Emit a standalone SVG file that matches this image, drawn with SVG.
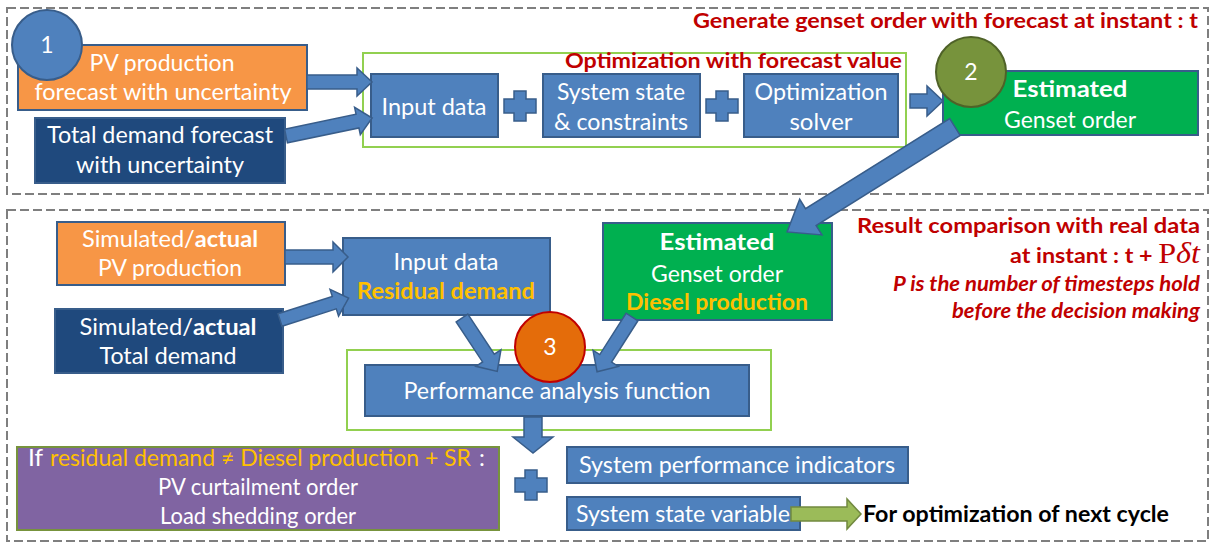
<svg xmlns="http://www.w3.org/2000/svg" width="1213" height="544" viewBox="0 0 1213 544">
<defs>
<style>
.dash{fill:none;stroke:#7F7F7F;stroke-width:2;stroke-dasharray:9,4}
.grn{fill:none;stroke:#92D050;stroke-width:2}
.bx{stroke:#385D8A;stroke-width:2}
.blue{fill:#4F81BD}
.org{fill:#F79646}
.dkb{fill:#1F497D}
.gbox{fill:#00B050}
.arr{fill:#4F81BD;stroke:#385D8A;stroke-width:1.5}
.t{fill:#fff;font-family:Lato,"Liberation Sans",sans-serif;font-size:23.5px;text-anchor:middle}
.s{text-anchor:start}
.bd{font-weight:bold}
.yl{fill:#FFC000}
.red{fill:#C00000;font-family:Lato,"Liberation Sans",sans-serif;font-weight:bold;font-size:21px;text-anchor:end}
.num{fill:#fff;font-family:Lato,"Liberation Sans",sans-serif;font-size:23px;text-anchor:middle}
</style>
</defs>
<rect width="1213" height="544" fill="#fff"/>
<rect class="dash" x="7" y="8" width="1201" height="186"/>
<rect class="dash" x="7" y="210" width="1201" height="331"/>

<text class="red" x="1198" y="28" textLength="505" lengthAdjust="spacingAndGlyphs">Generate genset order with forecast at instant : t</text>
<rect class="grn" x="363" y="53" width="543" height="94"/>
<text class="red" x="902" y="68" textLength="337" lengthAdjust="spacingAndGlyphs">Optimization with forecast value</text>
<text class="red" x="1200" y="233" textLength="343" lengthAdjust="spacingAndGlyphs">Result comparison with real data</text>
<text class="red" x="1200" y="263" font-size="23" textLength="190" lengthAdjust="spacingAndGlyphs">at instant : t + <tspan font-family="'Liberation Serif',serif" font-weight="normal" font-size="29">P</tspan><tspan font-family="'Liberation Serif',serif" font-weight="normal" font-style="italic" font-size="29">δt</tspan></text>
<text class="red" x="1200" y="291" font-size="18" font-style="italic" textLength="307" lengthAdjust="spacingAndGlyphs">P is the number of timesteps hold</text>
<text class="red" x="1200" y="318" font-size="18" font-style="italic" textLength="248" lengthAdjust="spacingAndGlyphs">before the decision making</text>
<rect class="grn" x="347" y="350" width="424" height="80"/>

<g id="pv-forecast">
<rect class="org bx" x="18" y="45" width="289" height="65"/>
<text class="t" x="162" y="71" textLength="145" lengthAdjust="spacingAndGlyphs">PV production</text>
<text class="t" x="163" y="100" textLength="257" lengthAdjust="spacingAndGlyphs">forecast with uncertainty</text>
</g>
<g id="demand-forecast">
<rect class="dkb bx" x="35" y="118" width="250" height="65"/>
<text class="t" x="160" y="143" textLength="226" lengthAdjust="spacingAndGlyphs">Total demand forecast</text>
<text class="t" x="160" y="173" textLength="168" lengthAdjust="spacingAndGlyphs">with uncertainty</text>
</g>
<g id="input-data">
<rect class="blue bx" x="371" y="74" width="127" height="63"/>
<text class="t" x="434" y="115" textLength="105" lengthAdjust="spacingAndGlyphs">Input data</text>
</g>
<g id="system-state">
<rect class="blue bx" x="543" y="74" width="157" height="63"/>
<text class="t" x="621" y="100" textLength="128" lengthAdjust="spacingAndGlyphs">System state</text>
<text class="t" x="621" y="130" textLength="134" lengthAdjust="spacingAndGlyphs">&amp; constraints</text>
</g>
<g id="solver">
<rect class="blue bx" x="744" y="74" width="154" height="63"/>
<text class="t" x="821" y="100" textLength="133" lengthAdjust="spacingAndGlyphs">Optimization</text>
<text class="t" x="821" y="130" textLength="63" lengthAdjust="spacingAndGlyphs">solver</text>
</g>
<g id="estimated-top">
<rect class="gbox bx" x="943" y="71" width="255" height="64"/>
<text class="t bd" x="1070" y="97" textLength="115" lengthAdjust="spacingAndGlyphs">Estimated</text>
<text class="t" x="1070" y="128" textLength="132" lengthAdjust="spacingAndGlyphs">Genset order</text>
</g>

<g id="actual-pv">
<rect class="org bx" x="57" y="222" width="228" height="63"/>
<text class="t" x="170" y="247" textLength="176" lengthAdjust="spacingAndGlyphs">Simulated/<tspan class="bd">actual</tspan></text>
<text class="t" x="170" y="276" textLength="144" lengthAdjust="spacingAndGlyphs">PV production</text>
</g>
<g id="actual-demand">
<rect class="dkb bx" x="55" y="309" width="228" height="64"/>
<text class="t" x="168" y="335" textLength="177" lengthAdjust="spacingAndGlyphs">Simulated/<tspan class="bd">actual</tspan></text>
<text class="t" x="168" y="364" textLength="137" lengthAdjust="spacingAndGlyphs">Total demand</text>
</g>
<g id="input-residual">
<rect class="blue bx" x="343" y="238" width="207" height="77"/>
<text class="t" x="446" y="270" textLength="105" lengthAdjust="spacingAndGlyphs">Input data</text>
<text class="t bd yl" x="446" y="299" textLength="178" lengthAdjust="spacingAndGlyphs">Residual demand</text>
</g>
<g id="estimated-bottom">
<rect class="gbox bx" x="603" y="223" width="229" height="97"/>
<text class="t bd" x="717" y="250" textLength="115" lengthAdjust="spacingAndGlyphs">Estimated</text>
<text class="t" x="717" y="282" textLength="132" lengthAdjust="spacingAndGlyphs">Genset order</text>
<text class="t bd yl" x="717" y="310" textLength="182" lengthAdjust="spacingAndGlyphs">Diesel production</text>
</g>
<g id="performance">
<rect class="blue bx" x="365" y="365" width="384" height="51"/>
<text class="t" x="557" y="399" textLength="307" lengthAdjust="spacingAndGlyphs">Performance analysis function</text>
</g>
<g id="curtailment">
<rect x="17" y="447" width="482" height="83" fill="#8064A2" stroke="#77933C" stroke-width="2"/>
<text class="t s" x="28" y="466" textLength="15" lengthAdjust="spacingAndGlyphs">If</text>
<text class="t s yl" x="50" y="466" textLength="421" lengthAdjust="spacingAndGlyphs">residual demand ≠ Diesel production + SR</text>
<text class="t s" x="479" y="466">:</text>
<text class="t" x="258" y="495" textLength="200" lengthAdjust="spacingAndGlyphs">PV curtailment order</text>
<text class="t" x="258" y="524" textLength="196" lengthAdjust="spacingAndGlyphs">Load shedding order</text>
</g>
<g id="indicators">
<rect class="blue bx" x="567" y="447" width="341" height="36"/>
<text class="t" x="737" y="473" textLength="316" lengthAdjust="spacingAndGlyphs">System performance indicators</text>
</g>
<g id="state-variable">
<rect class="blue bx" x="567" y="497" width="233" height="33"/>
<text class="t" x="683" y="522" textLength="214" lengthAdjust="spacingAndGlyphs">System state variable</text>
</g>
<g id="next-cycle">
<text x="863" y="522" fill="#000" font-family="Lato,'Liberation Sans',sans-serif" font-weight="bold" font-size="22" textLength="306" lengthAdjust="spacingAndGlyphs">For optimization of next cycle</text>
</g>

<g id="connectors">
<polygon class="arr" points="307,75 357,75 357,68 372,82 357,96 357,89 307,89"/>
<polygon class="arr" transform="translate(286,136) rotate(-11.8)" points="0,-7 73,-7 73,-14 88,0 73,14 73,7 0,7"/>
<path class="arr" d="M504,99 h10 v-8 h12 v8 h10 v14 h-10 v8 h-12 v-8 h-10 z"/>
<path class="arr" d="M706,99 h10 v-8 h12 v8 h10 v14 h-10 v8 h-12 v-8 h-10 z"/>
<polygon class="arr" points="910,94 927,94 927,86 943,101 927,116 927,108 910,108"/>
<polygon class="arr" transform="translate(955,127) rotate(148)" points="0,-10 170,-10 170,-21 198,0 170,21 170,10 0,10"/>
<polygon class="arr" points="285,250 333,250 333,242 348,257 333,272 333,264 285,264"/>
<polygon class="arr" transform="translate(280,320) rotate(-17.7)" points="0,-6.5 57,-6.5 57,-14 72,0 57,14 57,6.5 0,6.5"/>
<polygon class="arr" transform="translate(462,318) rotate(56.6)" points="0,-7 48,-7 48,-15 64,0 48,15 48,7 0,7"/>
<polygon class="arr" transform="translate(632,317) rotate(122.5)" points="0,-7 49,-7 49,-15 65,0 49,15 49,7 0,7"/>
<polygon class="arr" points="524,417 542,417 542,437 553,437 533,453 513,437 524,437"/>
<path class="arr" d="M515,478 h10 v-8 h12 v8 h10 v14 h-10 v8 h-12 v-8 h-10 z"/>
<polygon points="791,507 847,507 847,499 861,514 847,529 847,521 791,521" fill="#9BBB59" stroke="#71893F" stroke-width="1.5"/>
</g>

<g id="badge-1">
<circle cx="47" cy="45" r="35" fill="#4F81BD" stroke="#385D8A" stroke-width="2"/>
<text class="num" x="47" y="53">1</text>
</g>
<g id="badge-2">
<circle cx="971" cy="72" r="35" fill="#77933C" stroke="#4F6228" stroke-width="2"/>
<text class="num" x="971" y="80">2</text>
</g>
<g id="badge-3">
<circle cx="550" cy="347" r="35" fill="#E46C0A" stroke="#C00000" stroke-width="2"/>
<text class="num" x="550" y="355">3</text>
</g>
</svg>
